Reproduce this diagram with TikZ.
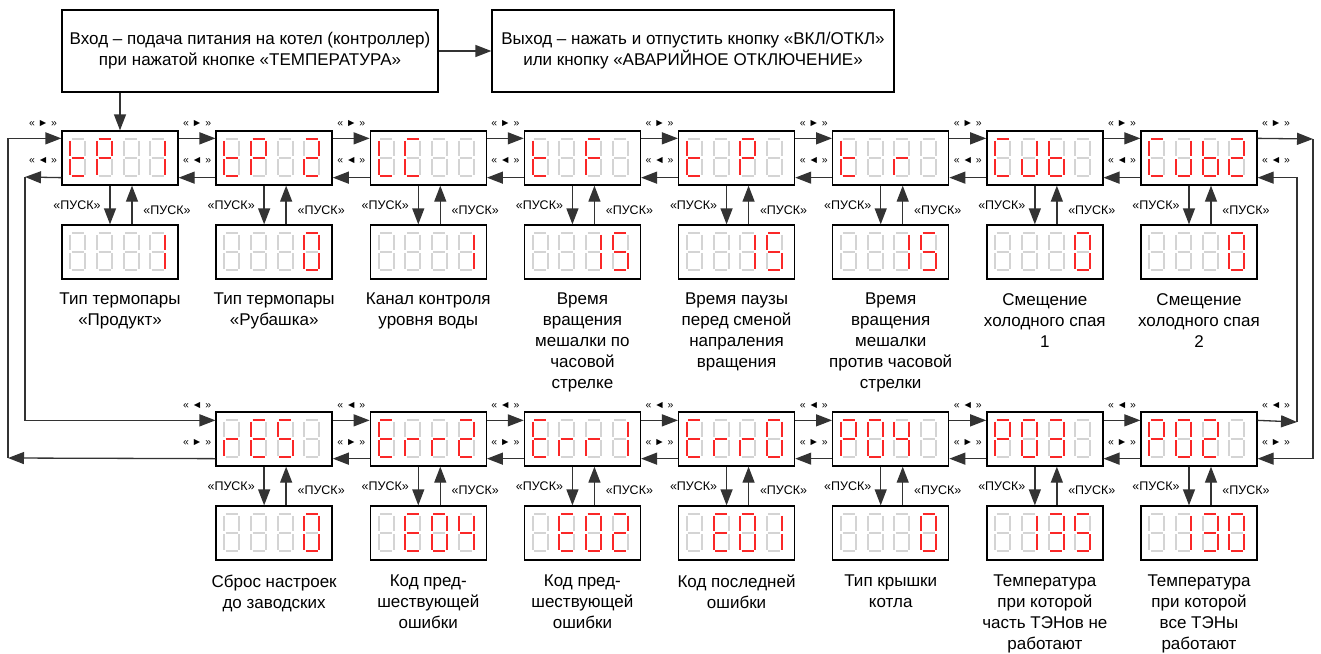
\documentclass[tikz,border=0pt]{standalone}
\usepackage{fontspec}
\setmainfont{Liberation Sans}
\usetikzlibrary{arrows.meta}

\definecolor{segred}{RGB}{250,40,40}
\definecolor{seggray}{RGB}{212,212,212}

\tikzset{
  seg a/.style={insert path={(1.5,0) -- (13.5,0)}},
  seg b/.style={insert path={(15,1.5) -- (15,17)}},
  seg c/.style={insert path={(15,20) -- (15,35.5)}},
  seg d/.style={insert path={(1.5,37) -- (13.5,37)}},
  seg e/.style={insert path={(0,20) -- (0,35.5)}},
  seg f/.style={insert path={(0,1.5) -- (0,17)}},
  seg g/.style={insert path={(1.5,18.5) -- (13.5,18.5)}},
  seg x/.style={},
  segoff/.style={draw=seggray, line width=2pt},
  segon/.style={draw=segred, line width=2pt},
  pics/digit/.style={code={
    \foreach \s in {a,...,g} \path[segoff, seg \s];
    \foreach \s in {#1} \path[segon, seg \s];
  }},
  pics/disp/.style n args={4}{code={
    \pic at (9,9) {digit={#1}};
    \pic at (35.7,9) {digit={#2}};
    \pic at (62.3,9) {digit={#3}};
    \pic at (89,9) {digit={#4}};
  }},
}

\begin{document}
\begin{tikzpicture}[x=1pt, y=-1pt,
    box/.style={draw=black, line width=1.3pt, fill=white, minimum width=116pt, minimum height=54pt, inner sep=0pt},
    textbox/.style={draw=black, line width=1.3pt, minimum height=82pt, align=center, inner sep=0pt, font=\fontsize{17}{21}\selectfont},
    desc/.style={anchor=north, align=center, inner sep=0pt, font=\fontsize{17}{21}\selectfont},
    pusk/.style={inner sep=0pt, font=\fontsize{12.5}{14}\selectfont},
    navlbl/.style={inner sep=0pt, font=\fontsize{10.5}{12}\selectfont},
    arr/.style={draw=black!80, line width=1.3pt, -{Triangle[length=16pt,width=12pt]}}]
\useasboundingbox (0,0) rectangle (1321,653);

% upper row of menu items
\foreach \i in {1,...,8} {
  \pgfmathsetmacro\cx{120+154.14*(\i-1)}
  \node[box] (m\i) at (\cx,158) {};
  \node[box] (v\i) at (\cx,252) {};
  \draw[arr] ([xshift=-10pt]m\i.south) -- ([xshift=-10pt]v\i.north);
  \draw[arr] ([xshift=12pt]v\i.north) -- ([xshift=12pt]m\i.south);
  \node[pusk] (pd\i) at (\cx-43,205) {«ПУСК»};
  \node[pusk] (pu\i) at (\cx+47,210) {«ПУСК»};
}

% lower row of menu items
\foreach \i in {2,...,8} {
  \pgfmathsetmacro\cx{120+154.14*(\i-1)}
  \node[box] (b\i) at (\cx,439) {};
  \node[box] (w\i) at (\cx,533) {};
  \draw[arr] ([xshift=-10pt]b\i.south) -- ([xshift=-10pt]w\i.north);
  \draw[arr] ([xshift=12pt]w\i.north) -- ([xshift=12pt]b\i.south);
  \node[pusk] (qd\i) at (\cx-43,486) {«ПУСК»};
  \node[pusk] (qu\i) at (\cx+47,490) {«ПУСК»};
}

% entry and exit
\node[textbox, minimum width=376pt] (entry) at (250,51) {Вход – подача питания на котел (контроллер)\\при нажатой кнопке «ТЕМПЕРАТУРА»};
\node[textbox, minimum width=402pt] (exit) at (693,51) {Выход – нажать и отпустить кнопку «ВКЛ/ОТКЛ»\\или кнопку «АВАРИЙНОЕ ОТКЛЮЧЕНИЕ»};
\draw[arr] (entry) -- (exit);
\draw[arr] (entry.south -| m1.north) -- (m1.north);

% navigation between items
\foreach \i [count=\j from 2] in {1,...,7} {
  \draw[arr] ([yshift=-8pt]m\i.north east) -- ([yshift=-8pt]m\j.north west);
  \draw[arr] ([yshift=8pt]m\j.south west) -- ([yshift=8pt]m\i.south east);
}
\foreach \i [count=\j from 3] in {2,...,7} {
  \draw[arr] ([yshift=-9pt]b\i.north east) -- ([yshift=-9pt]b\j.north west);
  \draw[arr] ([yshift=8pt]b\j.south west) -- ([yshift=8pt]b\i.south east);
}
\foreach \j in {0,...,8} {
  \node[navlbl] (nf\j) at (43+154.14*\j,124) {« ► »};
  \node[navlbl] (nb\j) at (43+154.14*\j,161) {« ◄ »};
}
\foreach \j in {1,...,8} {
  \node[navlbl] (lb\j) at (43+154.14*\j,405) {« ◄ »};
  \node[navlbl] (lf\j) at (43+154.14*\j,442) {« ► »};
}

% wrap-around on both sides
\coordinate (wl1) at (25,177);
\coordinate (wl2) at (8,458);
\coordinate (wr1) at (1313,139);
\coordinate (wr2) at (1297,422);
\draw[arr] ([yshift=8pt]m1.south west) -- (wl1);
\draw[arr] (wl1) |- ([yshift=-9pt]b2.north west);
\draw[arr] ([yshift=8pt]b2.south west) -- (wl2);
\draw[arr] (wl2) |- ([yshift=-8pt]m1.north west);
\draw[arr] ([yshift=-8pt]m8.north east) -- (wr1);
\draw[arr] (wr1) |- ([yshift=8pt]b8.south east);
\draw[arr] ([yshift=-9pt]b8.north east) -- (wr2);
\draw[arr] (wr2) |- ([yshift=8pt]m8.south east);

% indicator contents
\pic at (m1.north west) {disp={d,e,f,g}{a,b,e,f,g}{x}{b,c}};
\pic at (m2.north west) {disp={d,e,f,g}{a,b,e,f,g}{x}{a,b,d,e,g}};
\pic at (m3.north west) {disp={d,e,f}{a,d,e,f}{x}{x}};
\pic at (m4.north west) {disp={d,e,f,g}{x}{a,e,f,g}{x}};
\pic at (m5.north west) {disp={d,e,f,g}{x}{a,b,e,f,g}{x}};
\pic at (m6.north west) {disp={d,e,f,g}{x}{e,g}{x}};
\pic at (m7.north west) {disp={a,d,e,f}{b,c,d,e}{c,d,e,f,g}{x}};
\pic at (m8.north west) {disp={a,d,e,f}{b,c,d,e}{c,d,e,f,g}{a,b,d,e,g}};
\pic at (v1.north west) {disp={x}{x}{x}{b,c}};
\pic at (v2.north west) {disp={x}{x}{x}{a,b,c,d,e,f}};
\pic at (v3.north west) {disp={x}{x}{x}{b,c}};
\pic at (v4.north west) {disp={x}{x}{b,c}{a,c,d,f,g}};
\pic at (v5.north west) {disp={x}{x}{b,c}{a,c,d,f,g}};
\pic at (v6.north west) {disp={x}{x}{b,c}{a,c,d,f,g}};
\pic at (v7.north west) {disp={x}{x}{x}{a,b,c,d,e,f}};
\pic at (v8.north west) {disp={x}{x}{x}{a,b,c,d,e,f}};
\pic at (b2.north west) {disp={e,g}{a,d,e,f,g}{a,c,d,f,g}{x}};
\pic at (b3.north west) {disp={a,d,e,f,g}{e,g}{e,g}{a,b,d,e,g}};
\pic at (b4.north west) {disp={a,d,e,f,g}{e,g}{e,g}{b,c}};
\pic at (b5.north west) {disp={a,d,e,f,g}{e,g}{e,g}{a,b,c,d,e,f}};
\pic at (b6.north west) {disp={a,b,e,f,g}{a,b,c,d,e,f}{b,c,f,g}{x}};
\pic at (b7.north west) {disp={a,b,e,f,g}{a,b,c,d,e,f}{a,b,c,d,g}{x}};
\pic at (b8.north west) {disp={a,b,e,f,g}{a,b,c,d,e,f}{a,b,d,e,g}{x}};
\pic at (w2.north west) {disp={x}{x}{x}{a,b,c,d,e,f}};
\pic at (w3.north west) {disp={x}{a,d,e,f,g}{a,b,c,d,e,f}{b,c,f,g}};
\pic at (w4.north west) {disp={x}{a,d,e,f,g}{a,b,c,d,e,f}{a,b,d,e,g}};
\pic at (w5.north west) {disp={x}{a,d,e,f,g}{a,b,c,d,e,f}{b,c}};
\pic at (w6.north west) {disp={x}{x}{x}{a,b,c,d,e,f}};
\pic at (w7.north west) {disp={x}{b,c}{a,b,c,d,g}{a,c,d,f,g}};
\pic at (w8.north west) {disp={x}{b,c}{a,b,c,d,g}{a,b,c,d,e,f}};

% descriptions
\node[desc] (d1) at (v1.south |- 0,293) {Тип термопары\\«Продукт»};
\node[desc] (d2) at (v2.south |- 0,293) {Тип термопары\\«Рубашка»};
\node[desc] (d3) at (v3.south |- 0,293) {Канал контроля\\уровня воды};
\node[desc] (d4) at (v4.south |- 0,293) {Время\\вращения\\мешалки по\\часовой\\стрелке};
\node[desc] (d5) at (v5.south |- 0,293) {Время паузы\\перед сменой\\напраления\\вращения};
\node[desc] (d6) at (v6.south |- 0,293) {Время\\вращения\\мешалки\\против часовой\\стрелки};
\node[desc] (d7) at (v7.south |- 0,293) {Смещение\\холодного спая\\1};
\node[desc] (d8) at (v8.south |- 0,293) {Смещение\\холодного спая\\2};
\node[desc] (e2) at (w2.south |- 0,575) {Сброс настроек\\до заводских};
\node[desc] (e3) at (w3.south |- 0,575) {Код пред-\\шествующей\\ошибки};
\node[desc] (e4) at (w4.south |- 0,575) {Код пред-\\шествующей\\ошибки};
\node[desc] (e5) at (w5.south |- 0,575) {Код последней\\ошибки};
\node[desc] (e6) at (w6.south |- 0,575) {Тип крышки\\котла};
\node[desc] (e7) at (w7.south |- 0,575) {Температура\\при которой\\часть ТЭНов не\\работают};
\node[desc] (e8) at (w8.south |- 0,575) {Температура\\при которой\\все ТЭНы\\работают};
\end{tikzpicture}
\end{document}
